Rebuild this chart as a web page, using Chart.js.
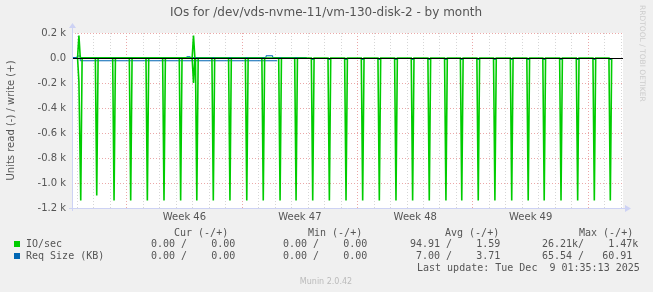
<!DOCTYPE html>
<html>
<head>
<meta charset="utf-8">
<script src="https://cdn.jsdelivr.net/npm/chart.js@4.4.1/dist/chart.umd.min.js"></script>
<style>
  html, body { margin: 0; padding: 0; background: #f0f0f0; }
  canvas { display: block; }
</style>
</head>
<body>
<canvas id="munin" width="653" height="292"></canvas>
<script>
// x is in days, counted from Monday 00:00 of week 46
const dayMin = -3.32;
const dayMax = 30.1;
const weekNumbers = [46, 47, 48, 49];
const weekStarts = [0, 7, 14, 21];
const sampleStep = 1 / 12; // 2 hour averages in the month view

// IO/sec, read side (drawn negative)
const readDays = [-2.9, -2.79, -1.82, -0.77, 0.24, 1.25, 2.26, 3.27, 4.05, 4.25, 5.25, 6.26, 7.28, 8.28, 9.3, 10.27,
  11.28, 12.29, 13.3, 14.31, 15.32, 16.33, 17.34, 18.35, 19.36, 20.32, 21.32, 22.33, 23.35, 24.35, 25.32, 26.34,
  27.35, 28.36, 29.33];
const readOps = [-190, -1140, -1100, -1140, -1140, -1140, -1140, -1140, -200, -1140, -1140, -1140, -1140, -1140, -1140, -1140,
  -1140, -1140, -1140, -1140, -1140, -1140, -1140, -1140, -1140, -1140, -1140, -1140, -1140, -1140, -1140, -1140,
  -1140, -1140, -1140];
// IO/sec, write side
const writeDays = [-2.9, 4.05];
const writeOps = [180, 180];

// Req size (KB), continuous part
const reqWriteDays = [-3.32, -3.0, -2.8, 3.64, 3.85, 8.45, 8.85, 10.92];
const reqWriteKB = [4, 16, 4, 10, 4, 18, 4, 4];
const reqReadDays = [-3.32, -2.82, 9.13];
const reqReadKB = [-3, -22, -22];
// Req size (KB) at the daily bursts after the quiet starts
const capDays = [11.28, 12.29, 13.3, 14.31, 15.32, 16.33, 17.34, 18.35, 19.36, 20.32, 21.32, 22.33, 23.35, 24.35,
  25.32, 26.34, 27.35, 28.36, 29.33];
const capReadKB = [-12, -12, -12, -12, -12, -12, -12, -12, -12, -12, -12, -12, -12, -12, -12, -12, -12, -12, -12];

const yTicks = [-1200, 200, 100]; // min, max, step

function spikeLine(days, vals) {
  const pts = [];
  days.forEach((d, i) => {
    const prev = days[i - 1], next = days[i + 1];
    if (prev === undefined || d - prev > 2 * sampleStep) pts.push({ x: d - sampleStep, y: 0 });
    pts.push({ x: d, y: vals[i] });
    if (next === undefined || next - d > 2 * sampleStep) pts.push({ x: d + sampleStep, y: 0 });
  });
  return pts;
}

function stepLine(days, vals) {
  return days.map((d, i) => ({ x: d, y: vals[i] }));
}

function capLine(days, vals) {
  const pts = [];
  days.forEach((d, i) => {
    pts.push({ x: d - sampleStep, y: vals[i] }, { x: d + sampleStep, y: vals[i] }, { x: d + sampleStep, y: null });
  });
  return pts;
}

const green = "#00cc00";
const blue = "#0066b3";
const txt = "#555";

const munin = {
  id: "munin",
  beforeDraw(chart) {
    const { ctx, chartArea: a } = chart;
    ctx.save();
    ctx.fillStyle = "#f0f0f0";
    ctx.fillRect(0, 0, chart.width, chart.height);
    ctx.fillStyle = "#fff";
    ctx.fillRect(a.left, a.top, a.right - a.left, a.bottom - a.top);
    ctx.restore();
  },
  afterDatasetsDraw(chart) {
    const { ctx, chartArea: a } = chart;
    const y0 = Math.round(chart.scales.y.getPixelForValue(0)) + 0.5;
    ctx.save();
    ctx.strokeStyle = "#000";
    ctx.lineWidth = 1;
    ctx.beginPath();
    ctx.moveTo(a.left, y0);
    ctx.lineTo(a.right, y0);
    ctx.stroke();
    ctx.restore();
  },
  afterDraw(chart) {
    const { ctx, chartArea: a } = chart;
    ctx.save();
    // axes with arrows
    ctx.strokeStyle = "#cdd2f4";
    ctx.fillStyle = "#cdd2f4";
    ctx.lineWidth = 1;
    const xl = a.left + 0.5, yb = a.bottom + 0.5;
    ctx.beginPath();
    ctx.moveTo(xl, a.bottom + 3);
    ctx.lineTo(xl, a.top - 6);
    ctx.moveTo(a.left - 3, yb);
    ctx.lineTo(a.right + 3, yb);
    ctx.stroke();
    ctx.beginPath();
    ctx.moveTo(xl - 3.5, a.top - 5);
    ctx.lineTo(xl + 3.5, a.top - 5);
    ctx.lineTo(xl, a.top - 10);
    ctx.closePath();
    ctx.fill();
    ctx.beginPath();
    ctx.moveTo(a.right + 2, yb - 3.5);
    ctx.lineTo(a.right + 2, yb + 3.5);
    ctx.lineTo(a.right + 8, yb);
    ctx.closePath();
    ctx.fill();

    // title
    ctx.fillStyle = txt;
    ctx.textBaseline = "middle";
    ctx.textAlign = "center";
    ctx.font = "12px 'DejaVu Sans'";
    ctx.fillText("IOs for /dev/vds-nvme-11/vm-130-disk-2 - by month", 326, 13);

    // watermark
    ctx.fillStyle = "#cccccc";
    ctx.font = "7.5px 'DejaVu Sans'";
    ctx.save();
    ctx.translate(642, 5);
    ctx.rotate(Math.PI / 2);
    ctx.textAlign = "left";
    ctx.fillText("RRDTOOL / TOBI OETIKER", 0, 0);
    ctx.restore();

    ctx.fillStyle = "#bbbbbb";
    ctx.font = "8px 'DejaVu Sans'";
    ctx.fillText("Munin 2.0.42", 326, 282);

    // legend
    ctx.textAlign = "left";
    ctx.fillStyle = txt;
    ctx.font = "10px 'DejaVu Sans Mono'";
    ctx.fillText("Cur (-/+)", 174, 233);
    ctx.fillText("Min (-/+)", 308, 233);
    ctx.fillText("Avg (-/+)", 445, 233);
    ctx.fillText("Max (-/+)", 579, 233);

    ctx.fillText("IO/sec", 26, 244);
    ctx.fillText("0.00 /    0.00", 151, 244);
    ctx.fillText("0.00 /    0.00", 283, 244);
    ctx.fillText("94.91 /    1.59", 410, 244);
    ctx.fillText("26.21k/    1.47k", 542, 244);

    ctx.fillText("Req Size (KB)", 26, 256);
    ctx.fillText("0.00 /    0.00", 151, 256);
    ctx.fillText("0.00 /    0.00", 283, 256);
    ctx.fillText("7.00 /    3.71", 416, 256);
    ctx.fillText("65.54 /   60.91", 542, 256);

    ctx.fillText("Last update: Tue Dec  9 01:35:13 2025", 417, 268);

    ctx.fillStyle = green;
    ctx.fillRect(14, 241, 6, 6);
    ctx.fillStyle = blue;
    ctx.fillRect(14, 253, 6, 6);
    ctx.restore();
  },
};

const isWeekCenter = (v) => weekStarts.some((s) => Math.abs(v - (s + 3.5)) < 1e-6);

new Chart(document.getElementById("munin"), {
  type: "line",
  data: {
    datasets: [
      { label: "read", data: spikeLine(readDays, readOps), borderColor: green, borderWidth: 1.6 },
      { label: "write", data: spikeLine(writeDays, writeOps), borderColor: green, borderWidth: 1.6 },
      { label: "req write", data: stepLine(reqWriteDays, reqWriteKB), borderColor: blue, stepped: true },
      { label: "req read", data: stepLine(reqReadDays, reqReadKB), borderColor: blue, stepped: true },
      { label: "req at bursts", data: capLine(capDays, capReadKB), borderColor: blue, stepped: true },
    ],
  },
  options: {
    responsive: false,
    animation: false,
    layout: { padding: { left: 0, top: 33, right: 30, bottom: 64 } },
    elements: {
      line: { borderWidth: 1, tension: 0, fill: false },
      point: { radius: 0, hoverRadius: 0 },
    },
    plugins: { legend: { display: false }, tooltip: { enabled: false }, title: { display: false } },
    scales: {
      x: {
        type: "linear",
        min: dayMin,
        max: dayMax,
        afterFit: (s) => { s.height = 20; },
        afterBuildTicks: (s) => {
          const t = [];
          for (let d = Math.ceil(dayMin); d <= dayMax; d++) t.push({ value: d });
          weekStarts.forEach((w) => t.push({ value: w + 3.5 }));
          t.sort((p, q) => p.value - q.value);
          s.ticks = t;
        },
        ticks: {
          autoSkip: false,
          maxRotation: 0,
          padding: 3,
          color: txt,
          font: { family: "'DejaVu Sans'", size: 10 },
          callback: (v) => {
            const i = weekStarts.findIndex((s) => Math.abs(v - (s + 3.5)) < 1e-6);
            return i >= 0 ? "Week " + weekNumbers[i] : "";
          },
        },
        grid: {
          drawTicks: false,
          color: (c) => {
            const v = c.tick.value;
            if (isWeekCenter(v)) return "rgba(0,0,0,0)";
            return v % 7 === 0 ? "#eba8a8" : "#d6d6d6";
          },
        },
        border: { display: false, dash: [1, 2] },
      },
      y: {
        min: yTicks[0],
        max: yTicks[1],
        afterFit: (s) => { s.width = 72; },
        ticks: {
          stepSize: yTicks[2],
          padding: 6,
          color: txt,
          font: { family: "'DejaVu Sans'", size: 10 },
          callback: (v) => {
            if (Math.round(v) % 200 !== 0) return "";
            return v === 0 ? "0.0" : (v / 1000).toFixed(1) + " k";
          },
        },
        grid: {
          drawTicks: false,
          color: (c) => (Math.round(c.tick.value) % 200 === 0 ? "#eba8a8" : "#d6d6d6"),
        },
        border: { display: false, dash: [1, 2] },
        title: {
          display: true,
          text: "Units read (-) / write (+)",
          color: txt,
          font: { family: "'DejaVu Sans'", size: 10 },
          padding: { top: 5, bottom: 0 },
        },
      },
    },
  },
  plugins: [munin],
});
</script>
</body>
</html>
